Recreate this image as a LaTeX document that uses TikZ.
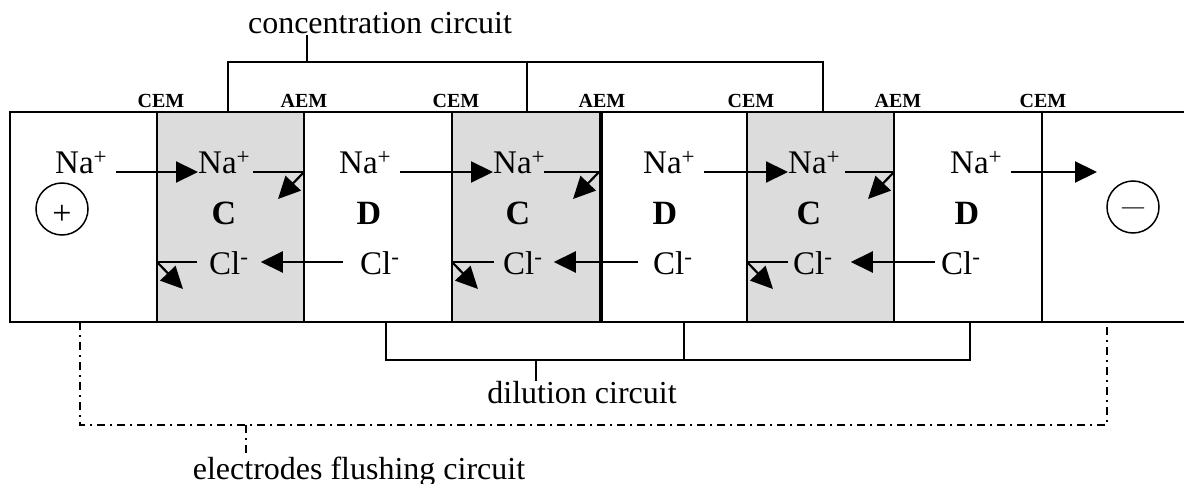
\documentclass[tikz,border=0pt]{standalone}
\usepackage{fontspec}
\setmainfont{Liberation Serif}
\usetikzlibrary{arrows.meta,calc}
\definecolor{cellgray}{HTML}{DCDCDC}
\begin{document}
\begin{tikzpicture}[x=1pt,y=-1pt,
  ion/.style={inner sep=0pt,anchor=base west,font=\fontsize{33}{40}\selectfont},
  lab/.style={inner sep=0pt,anchor=base,font=\fontsize{34}{40}\selectfont\bfseries},
  memlab/.style={inner sep=0pt,anchor=base,font=\fontsize{20}{24}\selectfont\bfseries},
  txt/.style={inner sep=0pt,anchor=base,font=\fontsize{32}{38}\selectfont},
  wall/.style={line width=2.2pt},
  thickwall/.style={line width=4pt},
  arr/.style={line width=2.2pt,-{Triangle[length=22pt,width=21pt]}},
  plainline/.style={line width=2pt},
  bracket/.style={line width=2.4pt},
  flush/.style={line width=2.4pt,dash pattern=on 8pt off 5pt on 2pt off 5pt},
  electrode/.style={circle,draw,line width=1.5pt,minimum size=52pt,inner sep=0pt}]

\useasboundingbox (0,0) rectangle (1184,484);

% concentrate compartments
\fill[cellgray] (157,112) rectangle (304,322);
\fill[cellgray] (452,112) rectangle (601,322);
\fill[cellgray] (747,112) rectangle (894,322);

% stack outline and membranes
\draw[wall] (1184,112) -- (10,112) -- (10,322) -- (1184,322);
\foreach \mx in {157,304,452,747,894,1042}
  \draw[wall] (\mx,112) -- (\mx,322);
\draw[thickwall] (601,112) -- (601,322);

% membrane labels
\node[memlab] (m1) at (161,108) {CEM};
\node[memlab] (m2) at (304,108) {AEM};
\node[memlab] (m3) at (456,108) {CEM};
\node[memlab] (m4) at (602,108) {AEM};
\node[memlab] (m5) at (751,108) {CEM};
\node[memlab] (m6) at (898,108) {AEM};
\node[memlab] (m7) at (1043,108) {CEM};

% electrodes
\node[electrode] (anode) at (62,209) {};
\node[txt,font=\fontsize{34}{40}\selectfont] (plus) at (62,225) {+};
\node[electrode] (cathode) at (1133,207) {};
\node[txt,font=\fontsize{22}{26}\selectfont] (minus) at (1133,213) {—};

% Na+ row
\node[ion] (na1) at (55,174) {Na\textsuperscript{+}};
\node[ion] (na2) at (198,174) {Na\textsuperscript{+}};
\node[ion] (na3) at (339,174) {Na\textsuperscript{+}};
\node[ion] (na4) at (493,174) {Na\textsuperscript{+}};
\node[ion] (na5) at (643,174) {Na\textsuperscript{+}};
\node[ion] (na6) at (788,174) {Na\textsuperscript{+}};
\node[ion] (na7) at (950,174) {Na\textsuperscript{+}};

% compartment labels
\node[lab] (c1) at (224,225) {C};
\node[lab] (d1) at (369,225) {D};
\node[lab] (c2) at (518,225) {C};
\node[lab] (d2) at (665,225) {D};
\node[lab] (c3) at (809,225) {C};
\node[lab] (d3) at (967,225) {D};

% Cl- row
\node[ion] (cl1) at (209,274) {Cl\textsuperscript{-}};
\node[ion] (cl2) at (360,274) {Cl\textsuperscript{-}};
\node[ion] (cl3) at (503,274) {Cl\textsuperscript{-}};
\node[ion] (cl4) at (653,274) {Cl\textsuperscript{-}};
\node[ion] (cl5) at (793,274) {Cl\textsuperscript{-}};
\node[ion] (cl6) at (941,274) {Cl\textsuperscript{-}};

% membrane contact points and free ends
\coordinate (naR1) at (304,172);
\coordinate (naR2) at (599,172);
\coordinate (naR3) at (894,172);
\coordinate (naB1) at (278,199);
\coordinate (naB2) at (573,199);
\coordinate (naB3) at (868,199);
\coordinate (naOut) at (1097,172);
\coordinate (clR1) at (157,262);
\coordinate (clR2) at (452,262);
\coordinate (clR3) at (747,262);
\coordinate (clB1) at (183,289);
\coordinate (clB2) at (478,289);
\coordinate (clB3) at (773,289);

% Na+ transport
\draw[arr] ($(na1.base east)+(9,-2)$) -- ($(na2.base west)+(0,-2)$);
\draw[arr] ($(na3.base east)+(9,-2)$) -- ($(na4.base west)+(0,-2)$);
\draw[arr] ($(na5.base east)+(9,-2)$) -- ($(na6.base west)+(0,-2)$);
\draw[arr] ($(na7.base east)+(9,-2)$) -- (naOut);
\draw[plainline] ($(na2.base east)+(3,-2)$) -- (naR1);
\draw[arr] (naR1) -- (naB1);
\draw[plainline] ($(na4.base east)+(-1,-2)$) -- (naR2);
\draw[arr] (naR2) -- (naB2);
\draw[plainline] ($(na6.base east)+(5,-2)$) -- (naR3);
\draw[arr] (naR3) -- (naB3);

% Cl- transport
\draw[arr] ($(cl2.base west)+(-17,-12)$) -- ($(cl1.base east)+(12,-12)$);
\draw[arr] ($(cl4.base west)+(-15,-12)$) -- ($(cl3.base east)+(11,-12)$);
\draw[arr] ($(cl6.base west)+(-6,-12)$) -- ($(cl5.base east)+(18,-12)$);
\draw[plainline] ($(cl1.base west)+(-12,-12)$) -- (clR1);
\draw[arr] (clR1) -- (clB1);
\draw[plainline] ($(cl3.base west)+(-9,-12)$) -- (clR2);
\draw[arr] (clR2) -- (clB2);
\draw[plainline] ($(cl5.base west)+(-5,-12)$) -- (clR3);
\draw[arr] (clR3) -- (clB3);

% concentration circuit
\node[txt] (conc) at (380,34) {concentration circuit};
\coordinate (cstem) at (307,62);
\draw[bracket] (228,112) -- (228,62) -- (823,62) -- (823,112);
\draw[bracket] (527,62) -- (527,112);
\draw[bracket] (conc.south -| cstem) -- (cstem);

% dilution circuit
\node[txt] (dil) at (582,403) {dilution circuit};
\coordinate (dstem) at (536,360);
\draw[bracket] (386,322) -- (386,360) -- (970,360) -- (970,322);
\draw[bracket] (684,360) -- (684,322);
\draw[bracket] (dstem) -- (dil.north -| dstem);

% electrodes flushing circuit
\node[txt] (flushtxt) at (359,479) {electrodes flushing circuit};
\coordinate (fstem) at (246,425);
\draw[flush] (80,322) -- (80,425) -- (1107,425) -- (1107,322);
\draw[flush] (fstem) -- (246,455);
\end{tikzpicture}
\end{document}
